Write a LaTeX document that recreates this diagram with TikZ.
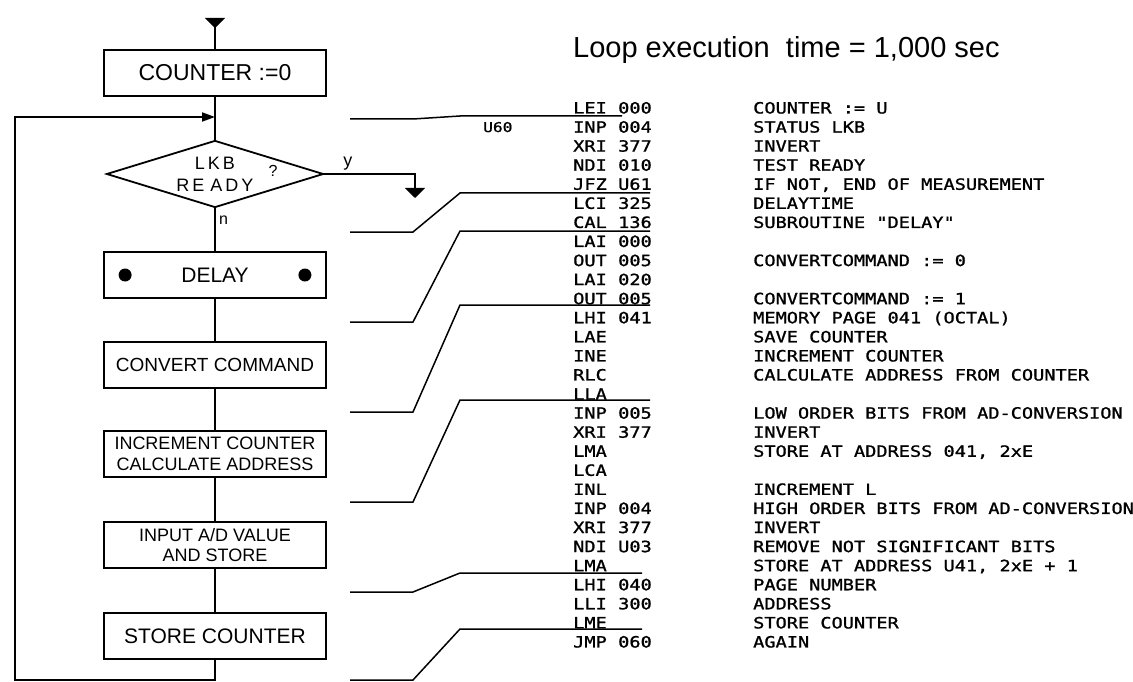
\documentclass[tikz,border=0pt]{standalone}
\usepackage{fontspec}
\setmainfont{Liberation Sans}
\newfontfamily\codefont[FakeStretch=1.2,FakeBold=1.2]{DejaVu Sans Mono}
\usetikzlibrary{shapes.geometric,arrows.meta}

\tikzset{
  box/.style={draw, line width=1.8pt, minimum width=222pt, minimum height=46pt, inner sep=0pt, align=center},
  decision/.style={diamond, draw, line width=1.8pt, aspect=3.2, inner sep=0pt, minimum width=217pt, minimum height=67pt, align=center},
  flow/.style={line width=1.8pt},
  link/.style={line width=1.5pt},
  head/.style={-{Triangle[width=20pt,length=10pt]}},
  asm/.style={anchor=base west, inner sep=0pt, font=\codefont\fontsize{15.5pt}{17pt}\selectfont},
}

\begin{document}
\begin{tikzpicture}[x=1pt, y=-1pt]
    \useasboundingbox[fill=white] (0,0) rectangle (1133,682);

    % flowchart
    \node[box, font=\fontsize{23pt}{25pt}\selectfont] (counter) at (215,73) {COUNTER :=0};
    \node[decision, font=\fontsize{18pt}{22pt}\selectfont] (ready) at (215,174) {L\,K\,B\\R\,E\,\,A\,D\,Y};
    \node[inner sep=0pt, font=\fontsize{16pt}{18pt}\selectfont] (query) at (273,171) {?};
    \node[box, font=\fontsize{21pt}{23pt}\selectfont] (delay) at (215,275) {DELAY};
    \node[box, font=\fontsize{19pt}{21pt}\selectfont] (convert) at (215,365) {CONVERT COMMAND};
    \node[box, font=\fontsize{18pt}{21pt}\selectfont] (incr) at (215,454) {INCREMENT COUNTER\\CALCULATE ADDRESS};
    \node[box, font=\fontsize{18pt}{20pt}\selectfont] (input) at (215,545) {INPUT A/D VALUE\\AND STORE};
    \node[box, font=\fontsize{21pt}{23pt}\selectfont] (store) at (215,636) {STORE COUNTER};

    \fill ([xshift=22pt]delay.west) circle (6.5pt);
    \fill ([xshift=-22pt]delay.east) circle (6.5pt);

    \coordinate (entry) at (215,18);
    \coordinate (join) at (215,117);
    \coordinate (back) at (15,680);
    \coordinate (yes) at (415,198);

    \draw[flow] (entry) -- (counter);
    \draw[flow, head] (entry) -- ++(0,10);
    \draw[flow] (counter) -- (ready);
    \draw[flow] (ready) -- node[pos=0.28, right, font=\fontsize{16pt}{18pt}\selectfont] {n} (delay);
    \draw[flow] (delay) -- (convert) -- (incr) -- (input) -- (store);
    \draw[flow, head] (ready.east) -| node[pos=0.13, above, font=\fontsize{18pt}{20pt}\selectfont] {y} (yes);
    \draw[flow, -{Triangle[width=9pt,length=13pt]}] (store) |- (back) |- (join);

    % program listing
    \node[anchor=base west, inner sep=0pt, font=\fontsize{29pt}{31pt}\selectfont] (title) at (573,58) {Loop execution\ \ time = 1,000 sec};
    \node[asm, font=\codefont\fontsize{13.5pt}{15pt}\selectfont] (address) at (483,132) {U60};

    \foreach \op/\arg/\txt [count=\i from 0] in {
        LEI/000/{COUNTER := U},
        INP/004/{STATUS LKB},
        XRI/377/{INVERT},
        NDI/010/{TEST READY},
        JFZ/U61/{IF NOT, END OF MEASUREMENT},
        LCI/325/{DELAYTIME},
        CAL/136/{SUBROUTINE "DELAY"},
        LAI/000/{},
        OUT/005/{CONVERTCOMMAND := 0},
        LAI/020/{},
        OUT/005/{CONVERTCOMMAND := 1},
        LHI/041/{MEMORY PAGE 041 (OCTAL)},
        LAE//{SAVE COUNTER},
        INE//{INCREMENT COUNTER},
        RLC//{CALCULATE ADDRESS FROM COUNTER},
        LLA//{},
        INP/005/{LOW ORDER BITS FROM AD-CONVERSION},
        XRI/377/{INVERT},
        LMA//{STORE AT ADDRESS 041, 2xE},
        LCA//{},
        INL//{INCREMENT L},
        INP/004/{HIGH ORDER BITS FROM AD-CONVERSION},
        XRI/377/{INVERT},
        NDI/U03/{REMOVE NOT SIGNIFICANT BITS},
        LMA//{STORE AT ADDRESS U41, 2xE + 1},
        LHI/040/{PAGE NUMBER},
        LLI/300/{ADDRESS},
        LME//{STORE COUNTER},
        JMP/060/{AGAIN}} {
        \node[asm] (op\i) at (573,{113.5+19.07*\i}) {\op};
        \node[asm] (arg\i) at (618,{113.5+19.07*\i}) {\arg};
        \node[asm] (txt\i) at (753,{113.5+19.07*\i}) {\txt};
    }

    % links between flowchart and listing
    \coordinate (bendx) at (460,0);
    \foreach \ly/\ry/\rx [count=\k] in {119/116/622, 232/193/650, 322/231/650, 412/305/650, 502/400/650, 592/573/642, 680/629/642} {
        \coordinate (gap\k) at (350,\ly);
        \coordinate (row\k) at (\rx,\ry);
        \draw[link] (gap\k) -- ++(63,0) -- (row\k -| bendx) -- (row\k);
    }
\end{tikzpicture}
\end{document}
